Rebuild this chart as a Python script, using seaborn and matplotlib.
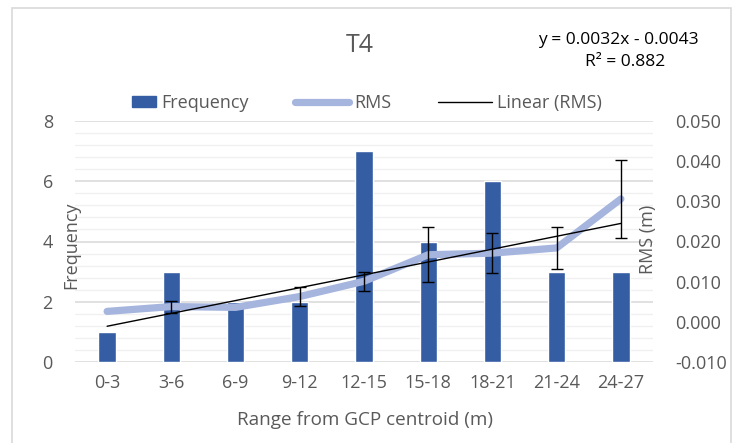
import numpy as np
import pandas as pd
import matplotlib
matplotlib.use("Agg")
import matplotlib.pyplot as plt
from matplotlib.ticker import MultipleLocator, FixedLocator, FuncFormatter
from matplotlib.patches import Rectangle
from matplotlib.lines import Line2D
from matplotlib.legend_handler import HandlerPatch
import seaborn as sns

# Distance bins from the GCP centroid
categories = ["0-3", "3-6", "6-9", "9-12", "12-15", "15-18", "18-21", "21-24", "24-27"]
# Number of checkpoints per bin
frequency = [1, 3, 2, 2, 7, 4, 6, 3, 3]
# RMS error per bin (m) and its error-bar half width
rms = [0.0026, 0.0038, 0.0036, 0.0063, 0.0101, 0.0167, 0.0171, 0.0184, 0.0306]
rms_err = [0.0, 0.0015, 0.0, 0.0024, 0.0023, 0.0069, 0.0049, 0.0052, 0.0097]
# Linear trend of RMS against bin number (1-based)
trend_slope = 0.0032
trend_intercept = -0.0043
r_squared = 0.882

rms_ticks = [-0.010, 0.000, 0.010, 0.020, 0.030, 0.040, 0.050]

sns.set_theme(style="white")
plt.rcParams["font.family"] = ["Open Sans", "DejaVu Sans"]

BAR = "#355DA3"
LINE = "#A6B5DE"
GRID = "#D9D9D9"
MINOR = "#F0F0F0"
TEXT = "#595959"

df = pd.DataFrame({"bin": categories, "pos": np.arange(len(categories)),
                   "frequency": frequency, "rms": rms, "err": rms_err})

fig = plt.figure(figsize=(7.40, 4.43), dpi=100)
fig.patch.set_facecolor("white")
fig.patches.append(Rectangle((12 / 740, -0.1), (731 - 12) / 740, 1.1 - 8 / 443,
                             transform=fig.transFigure, fill=False,
                             edgecolor=GRID, linewidth=1.2))

ax = fig.add_axes([75 / 740, 1 - 362 / 443, (653 - 75) / 740, (362 - 121) / 443])
sns.barplot(data=df, x="bin", y="frequency", color=BAR, saturation=1,
            width=0.27, ax=ax, zorder=3)
ax.set_ylim(0, 8)
ax.set_xlim(-0.5, len(categories) - 0.5)
ax.yaxis.set_major_locator(MultipleLocator(2))
ax.yaxis.set_minor_locator(MultipleLocator(0.4))
ax.grid(which="major", axis="y", color=GRID, linewidth=1.1, zorder=0)
ax.grid(which="minor", axis="y", color=MINOR, linewidth=1.0, zorder=0)
ax.set_axisbelow(True)
ax.tick_params(axis="y", which="both", length=0, pad=16, labelsize=13, labelcolor=TEXT)
ax.tick_params(axis="x", length=0, pad=9, labelsize=13, labelcolor=TEXT)
ax.set_xlabel("")
ax.set_ylabel("")
for s in ax.spines.values():
    s.set_visible(False)

ax2 = ax.twinx()
sns.lineplot(data=df, x="pos", y="rms", ax=ax2, color=LINE, linewidth=5.2,
             solid_capstyle="round", solid_joinstyle="round", zorder=3)
eb = df[df["err"] > 0]
ax2.errorbar(eb["pos"], eb["rms"], yerr=eb["err"], fmt="none", ecolor="black",
             elinewidth=1.0, capsize=4.6, capthick=1.0, zorder=5)
tx = df["pos"].to_numpy()
ax2.plot(tx, trend_slope * (tx + 1) + trend_intercept, color="black",
         linewidth=1.0, zorder=4)
ax2.set_ylim(-0.010, 0.050)
ax2.yaxis.set_major_locator(FixedLocator(rms_ticks))
ax2.yaxis.set_major_formatter(FuncFormatter(lambda v, p: f"{v:.3f}"))
ax2.tick_params(axis="y", length=0, pad=16, labelsize=13, labelcolor=TEXT)
ax2.set_xlabel("")
ax2.set_ylabel("")
ax2.set_xlim(-0.5, len(categories) - 0.5)
for s in ax2.spines.values():
    s.set_visible(False)

fig.text(360 / 740, 1 - 45 / 443, "T4", ha="center", va="center",
         fontsize=18, color=TEXT)
fig.text(618 / 740, 1 - 40 / 443, f"y = {trend_slope:.4f}x - {abs(trend_intercept):.4f}",
         ha="center", va="center", fontsize=12.5, color="black")
fig.text(625 / 740, 1 - 62 / 443, f"R² = {r_squared:.3f}",
         ha="center", va="center", fontsize=12.5, color="black")
fig.text(71 / 740, 1 - 245 / 443, "Frequency", rotation=90, ha="center",
         va="center", fontsize=13, color=TEXT)
fig.text(648 / 740, 1 - 239 / 443, "RMS (m)", rotation=90, ha="center",
         va="center", fontsize=13, color=TEXT)
fig.text(365 / 740, 1 - 420 / 443, "Range from GCP centroid (m)", ha="center",
         va="center", fontsize=13.6, color=TEXT)


def short_patch(legend, orig_handle, xdescent, ydescent, width, height, fontsize):
    # narrow swatch sitting right next to its label
    w = width * 0.45
    return Rectangle((width - w - xdescent, -ydescent), w, height)


handles = [Rectangle((0, 0), 1, 1, color=BAR),
           Line2D([], [], color=LINE, linewidth=5.2, solid_capstyle="round"),
           Line2D([], [], color="black", linewidth=1.0)]
fig.legend(handles, ["Frequency", "RMS", "Linear (RMS)"], ncol=3,
           loc="center", bbox_to_anchor=(352 / 740, 1 - 103 / 443),
           frameon=False, fontsize=13, labelcolor=TEXT, handlelength=3.0,
           handletextpad=0.3, columnspacing=2.55, handleheight=0.6,
           handler_map={Rectangle: HandlerPatch(patch_func=short_patch)})

fig.savefig("out.png", dpi=100)
